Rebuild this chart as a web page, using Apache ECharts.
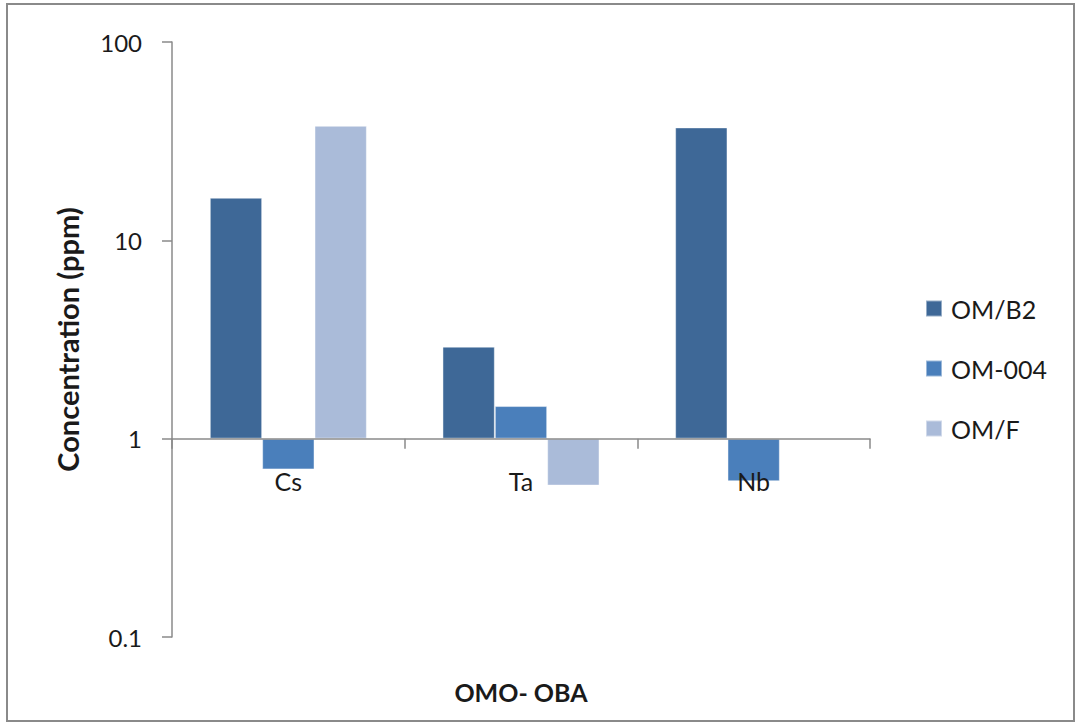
<!DOCTYPE html>
<html>
<head>
<meta charset="utf-8">
<title>OMO- OBA</title>
<script src="https://cdn.jsdelivr.net/npm/echarts@6/dist/echarts.min.js"></script>
<style>
  html, body { margin: 0; padding: 0; background: #ffffff; }
  #chart { width: 1077px; height: 723px; }
</style>
</head>
<body>
<div id="chart"></div>
<script>
// Trace element concentrations (ppm) per sample
const categories = ['Cs', 'Ta', 'Nb'];
const seriesNames = ['OM/B2', 'OM-004', 'OM/F'];
const omB2 = [16.4, 2.91, 37.1];
const om004 = [0.70, 1.46, 0.61];
const omF = [37.8, 0.58, null];
const yTicks = [0.1, 1, 10, 100];

const colors = ['#3e6897', '#4a7fbb', '#aabbd9'];
const values = [omB2, om004, omF];

const FONT = 'Lato, "Noto Sans", sans-serif';
const gridTop = 42, gridBottom = 86, gridHeight = 723 - gridTop - gridBottom;
// place the category axis on the value 1 line of the log axis
const decades = Math.log10(yTicks[yTicks.length - 1]) - Math.log10(yTicks[0]);
const oneFromBottom = gridHeight * (0 - Math.log10(yTicks[0])) / decades;

const chart = echarts.init(document.getElementById('chart'), null, { renderer: 'svg' });

chart.setOption({
  backgroundColor: '#ffffff',
  animation: false,
  grid: { left: 172, right: 207, top: gridTop, bottom: gridBottom, outerBoundsMode: 'none' },
  legend: {
    orient: 'vertical',
    left: 920,
    top: 291,
    itemWidth: 16,
    itemHeight: 16,
    itemGap: 35,
    icon: 'rect',
    data: seriesNames,
    textStyle: { fontFamily: FONT, fontSize: 25, color: '#1a1a1a', padding: [0, 0, 0, 4] }
  },
  xAxis: {
    type: 'category',
    data: categories,
    z: 3,
    offset: -oneFromBottom,
    axisLine: { onZero: false, lineStyle: { color: '#8a8a8a', width: 1.5 } },
    axisTick: { show: true, length: 10, lineStyle: { color: '#8a8a8a', width: 1.5 } },
    axisLabel: { margin: 30, fontFamily: FONT, fontSize: 25, color: '#1a1a1a' },
    splitLine: { show: false }
  },
  yAxis: {
    type: 'log',
    logBase: 10,
    min: yTicks[0],
    max: yTicks[yTicks.length - 1],
    name: 'Concentration (ppm)',
    nameLocation: 'middle',
    nameGap: 90,
    nameTextStyle: { fontFamily: FONT, fontSize: 29, fontWeight: 'bold', color: '#1a1a1a' },
    axisLine: { show: true, lineStyle: { color: '#8a8a8a', width: 1.5 } },
    axisTick: { show: true, length: 10, lineStyle: { color: '#8a8a8a', width: 1.5 } },
    axisLabel: { margin: 30, fontFamily: FONT, fontSize: 24, color: '#1a1a1a' },
    splitLine: { show: false }
  },
  series: seriesNames.map((name, i) => ({
    name: name,
    type: 'bar',
    data: values[i],
    barGap: '0%',
    barCategoryGap: '32.5%',
    itemStyle: { color: colors[i], borderColor: 'rgba(255,255,255,0.45)', borderWidth: 1 }
  })),
  graphic: [
    {
      type: 'text',
      x: 521,
      y: 692,
      style: {
        text: 'OMO- OBA',
        font: 'bold 25px ' + FONT,
        fill: '#1a1a1a',
        textAlign: 'center',
        textVerticalAlign: 'middle'
      }
    },
    {
      type: 'rect',
      shape: { x: 7, y: 4, width: 1067, height: 717 },
      style: { fill: 'none', stroke: '#8a8a8a', lineWidth: 2 },
      silent: true
    }
  ]
});
</script>
</body>
</html>
